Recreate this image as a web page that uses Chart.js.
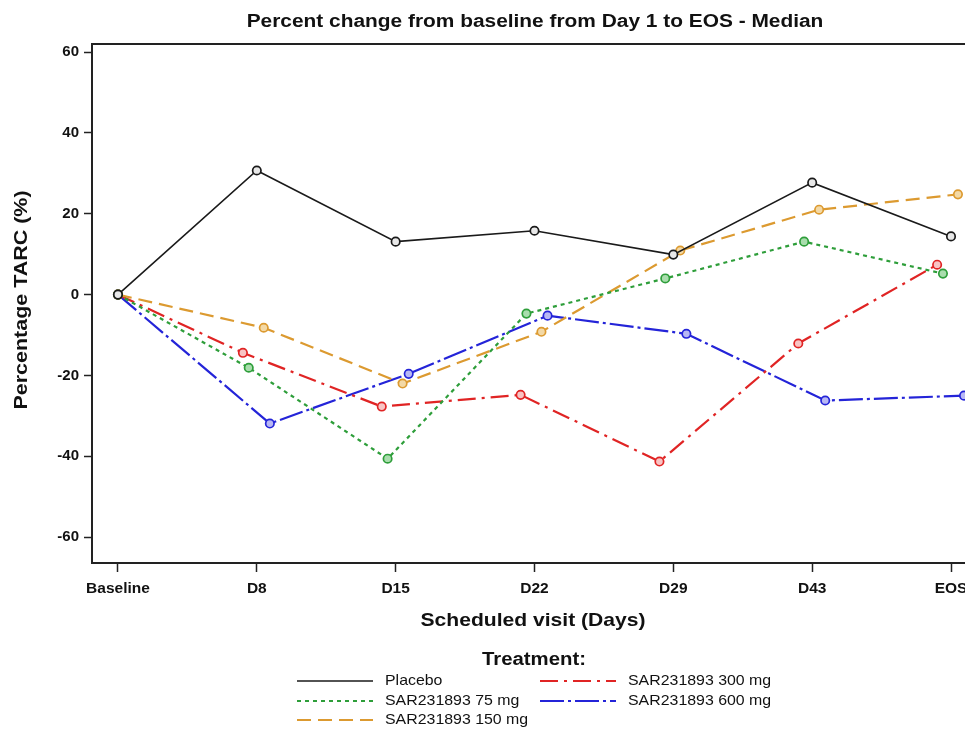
<!DOCTYPE html>
<html>
<head>
<meta charset="utf-8">
<script src="https://cdn.jsdelivr.net/npm/chart.js@4.4.1/dist/chart.umd.min.js"></script>
<style>
  html, body { margin: 0; padding: 0; background: #fff; overflow: hidden; }
  #wrap { width: 1000px; height: 729px; }
</style>
</head>
<body>
<div id="wrap"><canvas id="chart" width="1000" height="729"></canvas></div>
<script>
// Scheduled visits (x axis categories)
const visits = ['Baseline', 'D8', 'D15', 'D22', 'D29', 'D43', 'EOS'];

// Median percent change from baseline in TARC, by treatment arm
const placebo = [0, 30.7, 13.1, 15.8, 9.9, 27.7, 14.4];
const sar75   = [0, -18.1, -40.6, -4.7, 4.0, 13.1, 5.2];
const sar150  = [0, -8.2, -22.0, -9.2, 10.9, 21.0, 24.8];
const sar300  = [0, -14.4, -27.7, -24.8, -41.3, -12.1, 7.4];
const sar600  = [0, -31.9, -19.6, -5.2, -9.7, -26.2, -25.0];

// Y axis tick values
const yTicks = [-60, -40, -20, 0, 20, 40, 60];

const seriesNames = ['Placebo', 'SAR231893 75 mg', 'SAR231893 150 mg', 'SAR231893 300 mg', 'SAR231893 600 mg'];
const seriesValues = [placebo, sar75, sar150, sar300, sar600];

// Visual styling per arm: colour, dash pattern and a small horizontal cluster shift
const styles = [
  { color: '#1a1a1a', fill: '#e8e8e8', dash: [],            width: 1.6, shift: 0 },
  { color: '#2e9e3a', fill: '#a9ddad', dash: [4, 4],        width: 2.2, shift: -0.058 },
  { color: '#dc9a30', fill: '#f3d9a6', dash: [14, 7],       width: 2.2, shift: 0.05 },
  { color: '#e02424', fill: '#f8c4c4', dash: [18, 6, 3, 6], width: 2.2, shift: -0.1 },
  { color: '#2424d8', fill: '#b8b8f4', dash: [24, 4, 3, 4], width: 2.2, shift: 0.094 }
];

const datasets = seriesValues.map((vals, s) => ({
  label: seriesNames[s],
  data: vals.map((v, i) => ({ x: i + (i === 0 ? 0 : styles[s].shift), y: v })),
  borderColor: styles[s].color,
  borderWidth: styles[s].width,
  borderDash: styles[s].dash,
  pointRadius: 4.2,
  pointBorderWidth: 1.7,
  pointBorderColor: styles[s].color,
  pointBackgroundColor: styles[s].fill,
  tension: 0,
  fill: false
}));

const FONT = '"Liberation Sans", Arial, sans-serif';

// Text drawn with a slight horizontal widening
function wideText(ctx, text, x, y, font, sx, align, rotate) {
  ctx.save();
  ctx.translate(x, y);
  if (rotate) ctx.rotate(rotate);
  ctx.scale(sx, 1);
  ctx.font = font;
  ctx.textAlign = align;
  ctx.textBaseline = 'middle';
  ctx.fillText(text, 0, 0);
  ctx.restore();
}

// Title, axis titles, top frame line and treatment legend
const decorations = {
  id: 'decorations',
  afterDraw(chart) {
    const { ctx, chartArea } = chart;
    ctx.save();
    // top frame
    ctx.strokeStyle = '#222';
    ctx.lineWidth = 2;
    ctx.setLineDash([]);
    ctx.beginPath();
    ctx.moveTo(chartArea.left - 1, chartArea.top);
    ctx.lineTo(chartArea.right + 1, chartArea.top);
    ctx.stroke();

    ctx.fillStyle = '#111';
    // title
    wideText(ctx, 'Percent change from baseline from Day 1 to EOS - Median', 535, 22,
      'bold 18px ' + FONT, 1.16, 'center');
    // axis titles
    wideText(ctx, 'Scheduled visit (Days)', 533, 621, 'bold 19px ' + FONT, 1.11, 'center');
    wideText(ctx, 'Percentage TARC (%)', 22, 300, 'bold 19px ' + FONT, 1.13, 'center', -Math.PI / 2);

    // legend
    wideText(ctx, 'Treatment:', 534, 660, 'bold 18px ' + FONT, 1.13, 'center');
    const slots = [
      [297, 681], [297, 701], [297, 720], [540, 681], [540, 701]
    ];
    chart.data.datasets.forEach((ds, k) => {
      const [x, y] = slots[k];
      ctx.strokeStyle = ds.borderColor;
      ctx.lineWidth = ds.borderWidth;
      ctx.setLineDash(ds.borderDash);
      ctx.beginPath();
      ctx.moveTo(x, y);
      ctx.lineTo(x + 76, y);
      ctx.stroke();
      ctx.setLineDash([]);
      ctx.fillStyle = '#111';
      wideText(ctx, ds.label, x + 88, y, '15px ' + FONT, 1.06, 'left');
    });
    ctx.restore();
  }
};

new Chart(document.getElementById('chart'), {
  type: 'line',
  data: { datasets },
  plugins: [decorations],
  options: {
    responsive: false,
    animation: false,
    devicePixelRatio: 1,
    layout: { padding: { left: 10, top: 44, right: 24, bottom: 0 } },
    plugins: {
      legend: { display: false },
      title: { display: false },
      tooltip: { enabled: false }
    },
    scales: {
      x: {
        type: 'linear',
        min: -0.187,
        max: 6.18,
        afterFit(scale) { scale.height = 166; },
        afterBuildTicks(scale) { scale.ticks = visits.map((_, i) => ({ value: i })); },
        ticks: {
          autoSkip: false,
          maxRotation: 0,
          padding: 7,
          color: '#111',
          font: { family: FONT, size: 15.5, weight: 'bold' },
          callback: (v) => visits[v]
        },
        grid: { drawOnChartArea: false, drawTicks: true, tickLength: 9, tickWidth: 1.5, tickColor: '#222' },
        border: { display: true, color: '#222', width: 2 },
        title: { display: false }
      },
      y: {
        min: -66.4,
        max: 62,
        afterFit(scale) { scale.width = 82; },
        afterBuildTicks(scale) { scale.ticks = yTicks.map(v => ({ value: v })); },
        ticks: {
          padding: 5,
          color: '#111',
          font: { family: FONT, size: 15, weight: 'bold' }
        },
        grid: { drawOnChartArea: false, drawTicks: true, tickLength: 8, tickWidth: 1.5, tickColor: '#222' },
        border: { display: true, color: '#222', width: 2 },
        title: { display: false }
      }
    }
  }
});
</script>
</body>
</html>
